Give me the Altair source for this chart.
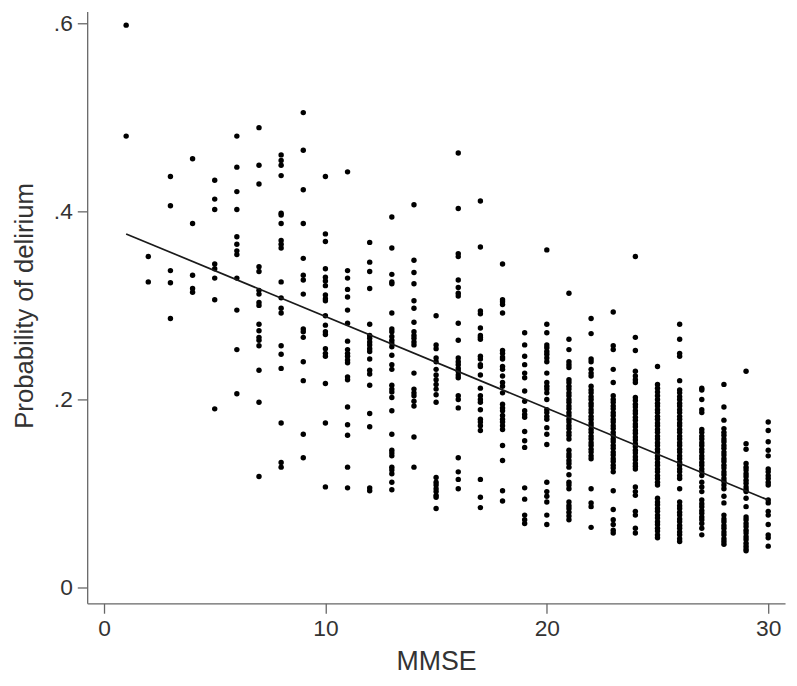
import altair as alt
import pandas as pd

# MMSE score columns -> predicted probability of delirium
m01 = [0.598, 0.480]
m02 = [0.352, 0.325]
m03 = [0.437, 0.406, 0.337, 0.324, 0.286]
m04 = [0.456, 0.387, 0.332, 0.318, 0.314]
m05 = [0.433, 0.413, 0.402, 0.344, 0.339, 0.329, 0.306, 0.190]
m06 = [0.480, 0.447, 0.421, 0.402, 0.373, 0.365, 0.358, 0.354, 0.329, 0.295, 0.253, 0.206]
m07 = [0.489, 0.449, 0.429, 0.341, 0.336, 0.316, 0.312, 0.303, 0.300, 0.280, 0.273, 0.266,
       0.263, 0.257, 0.231, 0.197, 0.118]
m08 = [0.460, 0.454, 0.449, 0.438, 0.398, 0.396, 0.387, 0.369, 0.365, 0.361, 0.325, 0.308,
       0.297, 0.292, 0.257, 0.248, 0.233, 0.175, 0.133, 0.128]
m09 = [0.505, 0.465, 0.423, 0.387, 0.350, 0.332, 0.327, 0.312, 0.275, 0.272, 0.266, 0.240,
       0.220, 0.163, 0.138]
m10 = [0.437, 0.376, 0.368, 0.339, 0.330, 0.326, 0.321, 0.311, 0.307, 0.305, 0.289, 0.279,
       0.272, 0.269, 0.254, 0.249, 0.246, 0.217, 0.175, 0.107]
m11 = [0.442, 0.337, 0.329, 0.317, 0.309, 0.295, 0.281, 0.262, 0.253, 0.249, 0.246, 0.242,
       0.239, 0.224, 0.221, 0.192, 0.173, 0.162, 0.128, 0.106]
m12 = [0.367, 0.346, 0.336, 0.318, 0.280, 0.268, 0.265, 0.261, 0.258, 0.254, 0.251, 0.243,
       0.231, 0.227, 0.215, 0.185, 0.171, 0.106, 0.103]
m13 = [0.394, 0.361, 0.333, 0.325, 0.323, 0.292, 0.275, 0.272, 0.267, 0.263, 0.260, 0.256,
       0.247, 0.237, 0.232, 0.215, 0.211, 0.208, 0.202, 0.188, 0.163, 0.146, 0.143, 0.140,
       0.128, 0.125, 0.121, 0.112, 0.104]
m14 = [0.407, 0.348, 0.335, 0.323, 0.305, 0.297, 0.282, 0.272, 0.268, 0.265, 0.261, 0.258,
       0.228, 0.211, 0.207, 0.204, 0.198, 0.193, 0.160, 0.128]
m15 = [0.289, 0.258, 0.254, 0.244, 0.240, 0.232, 0.226, 0.221, 0.216, 0.211, 0.205, 0.197,
       0.117, 0.112, 0.109, 0.105, 0.102, 0.098, 0.096, 0.084]
m16 = [0.462, 0.403, 0.355, 0.352, 0.327, 0.319, 0.313, 0.310, 0.281, 0.263, 0.244, 0.240,
       0.237, 0.233, 0.230, 0.226, 0.223, 0.204, 0.200, 0.191, 0.138, 0.123, 0.115, 0.105]
m17 = [0.411, 0.362, 0.294, 0.291, 0.276, 0.268, 0.266, 0.264, 0.246, 0.243, 0.237, 0.235,
       0.226, 0.212, 0.204, 0.200, 0.197, 0.189, 0.179, 0.176, 0.172, 0.167, 0.115, 0.096,
       0.085]
m18 = [0.344, 0.306, 0.304, 0.301, 0.292, 0.252, 0.249, 0.245, 0.243, 0.235, 0.232, 0.225,
       0.218, 0.214, 0.207, 0.195, 0.191, 0.188, 0.183, 0.179, 0.176, 0.172, 0.168, 0.151,
       0.135, 0.103, 0.092]
m19 = [0.271, 0.258, 0.246, 0.237, 0.228, 0.223, 0.209, 0.198, 0.188, 0.184, 0.181, 0.166,
       0.156, 0.149, 0.106, 0.094, 0.077, 0.072, 0.068]
m20 = [0.359, 0.280, 0.271, 0.258, 0.255, 0.251, 0.248, 0.244, 0.240, 0.228, 0.218, 0.214,
       0.211, 0.207, 0.200, 0.189, 0.186, 0.182, 0.179, 0.170, 0.163, 0.152, 0.112, 0.102,
       0.097, 0.091, 0.077, 0.067]
m21 = [0.313, 0.264, 0.253, 0.240, 0.237, 0.234, 0.221, 0.218, 0.214, 0.211, 0.207, 0.204,
       0.200, 0.197, 0.193, 0.190, 0.186, 0.183, 0.179, 0.176, 0.172, 0.169, 0.165, 0.162,
       0.158, 0.146, 0.142, 0.139, 0.135, 0.132, 0.128, 0.120, 0.112, 0.109, 0.105, 0.091,
       0.087, 0.084, 0.080, 0.076, 0.072]
m22 = [0.286, 0.270, 0.243, 0.240, 0.232, 0.228, 0.225, 0.214, 0.210, 0.207, 0.203, 0.200,
       0.196, 0.193, 0.189, 0.186, 0.182, 0.179, 0.175, 0.172, 0.168, 0.165, 0.161, 0.158,
       0.154, 0.151, 0.147, 0.144, 0.140, 0.137, 0.105, 0.090, 0.086, 0.064]
m23 = [0.293, 0.257, 0.253, 0.232, 0.218, 0.204, 0.200, 0.197, 0.193, 0.190, 0.186, 0.183,
       0.179, 0.176, 0.172, 0.169, 0.165, 0.162, 0.158, 0.155, 0.151, 0.148, 0.144, 0.141,
       0.137, 0.134, 0.130, 0.127, 0.123, 0.103, 0.083, 0.072, 0.067, 0.061, 0.058]
m24 = [0.352, 0.266, 0.252, 0.230, 0.225, 0.221, 0.218, 0.202, 0.199, 0.195, 0.192, 0.188,
       0.185, 0.181, 0.178, 0.174, 0.171, 0.167, 0.164, 0.160, 0.157, 0.153, 0.150, 0.146,
       0.143, 0.139, 0.136, 0.132, 0.129, 0.126, 0.107, 0.102, 0.098, 0.081, 0.077, 0.063,
       0.058]
m25 = [0.235, 0.216, 0.212, 0.208, 0.204, 0.200, 0.196, 0.193, 0.189, 0.186, 0.182, 0.179,
       0.175, 0.172, 0.168, 0.165, 0.161, 0.158, 0.154, 0.151, 0.147, 0.144, 0.140, 0.137,
       0.133, 0.130, 0.126, 0.123, 0.119, 0.116, 0.112, 0.109, 0.095, 0.091, 0.088, 0.084,
       0.081, 0.077, 0.074, 0.070, 0.067, 0.063, 0.060, 0.056, 0.053]
m26 = [0.280, 0.264, 0.249, 0.246, 0.220, 0.210, 0.207, 0.203, 0.200, 0.196, 0.193, 0.189,
       0.186, 0.182, 0.179, 0.175, 0.172, 0.168, 0.165, 0.161, 0.158, 0.154, 0.151, 0.147,
       0.144, 0.140, 0.137, 0.133, 0.130, 0.126, 0.123, 0.119, 0.116, 0.105, 0.091, 0.087,
       0.084, 0.080, 0.077, 0.073, 0.070, 0.066, 0.063, 0.059, 0.056, 0.052, 0.049]
m27 = [0.212, 0.210, 0.200, 0.189, 0.186, 0.168, 0.165, 0.161, 0.158, 0.154, 0.151, 0.147,
       0.144, 0.140, 0.137, 0.133, 0.130, 0.126, 0.123, 0.119, 0.112, 0.107, 0.102, 0.093,
       0.089, 0.086, 0.082, 0.079, 0.075, 0.072, 0.068, 0.063, 0.056]
m28 = [0.216, 0.192, 0.178, 0.169, 0.165, 0.162, 0.158, 0.155, 0.151, 0.148, 0.144, 0.141,
       0.137, 0.134, 0.130, 0.127, 0.123, 0.120, 0.116, 0.113, 0.109, 0.105, 0.097, 0.090,
       0.077, 0.073, 0.070, 0.066, 0.063, 0.059, 0.056, 0.052, 0.049, 0.046]
m29 = [0.230, 0.153, 0.147, 0.132, 0.128, 0.125, 0.121, 0.118, 0.114, 0.111, 0.107, 0.104,
       0.102, 0.095, 0.086, 0.075, 0.072, 0.068, 0.065, 0.061, 0.058, 0.054, 0.051, 0.047,
       0.044, 0.041, 0.039]
m30 = [0.176, 0.167, 0.155, 0.146, 0.140, 0.126, 0.123, 0.119, 0.116, 0.112, 0.109, 0.093,
       0.090, 0.081, 0.077, 0.067, 0.056, 0.053, 0.044]

columns = [m01, m02, m03, m04, m05, m06, m07, m08, m09, m10, m11, m12, m13, m14, m15,
           m16, m17, m18, m19, m20, m21, m22, m23, m24, m25, m26, m27, m28, m29, m30]

# fitted line end points
fit_mmse = [1, 30]
fit_prob = [0.376, 0.093]

x_ticks = [0, 10, 20, 30]
y_ticks = [0, 0.2, 0.4, 0.6]

rows = []
for i, vals in enumerate(columns, start=1):
    for v in vals:
        rows.append({"mmse": i, "prob": v})
df = pd.DataFrame(rows)
fit_df = pd.DataFrame({"mmse": fit_mmse, "prob": fit_prob})

FONT = "Liberation Sans"
TXT = "#333333"
AX = "#666666"

xscale = alt.Scale(domain=[-0.76, 30.76], nice=False, zero=False)
yscale = alt.Scale(domain=[-0.0168, 0.6126], nice=False, zero=False)

xaxis = alt.Axis(values=x_ticks, title="MMSE", grid=False, tickSize=10, labelPadding=4,
                 labelFontSize=23, titleFontSize=27, titlePadding=9, format="d")
yaxis = alt.Axis(values=y_ticks, title="Probability of delirium", grid=False, tickSize=10,
                 labelPadding=5, labelFontSize=23, titleFontSize=26,
                 labelExpr="datum.value == 0 ? '0' : '.' + round(datum.value * 10)",
                 titleX=-50, titleY=297, titleAngle=270, titleBaseline="bottom",
                 titleAlign="center")

points = alt.Chart(df).mark_circle(size=30, color="black", opacity=1).encode(
    x=alt.X("mmse:Q", scale=xscale, axis=xaxis),
    y=alt.Y("prob:Q", scale=yscale, axis=yaxis),
)

fit = alt.Chart(fit_df).mark_line(color="#1a1a1a", strokeWidth=1.7).encode(
    x=alt.X("mmse:Q", scale=xscale),
    y=alt.Y("prob:Q", scale=yscale),
)

chart = (
    alt.layer(points, fit)
    .properties(width=705, height=598,
                padding={"left": 80, "top": 0, "right": 4, "bottom": 72},
                autosize=alt.AutoSizeParams(type="none"),
                background="white")
    .configure_view(stroke=None)
    .configure_axis(labelFont=FONT, titleFont=FONT, labelColor=TXT, titleColor=TXT,
                    titleFontWeight="normal", domainColor=AX, tickColor=AX,
                    domainWidth=1.3, tickWidth=1.3)
)

chart.save("out.html", embed_options={"renderer": "svg", "actions": False})
